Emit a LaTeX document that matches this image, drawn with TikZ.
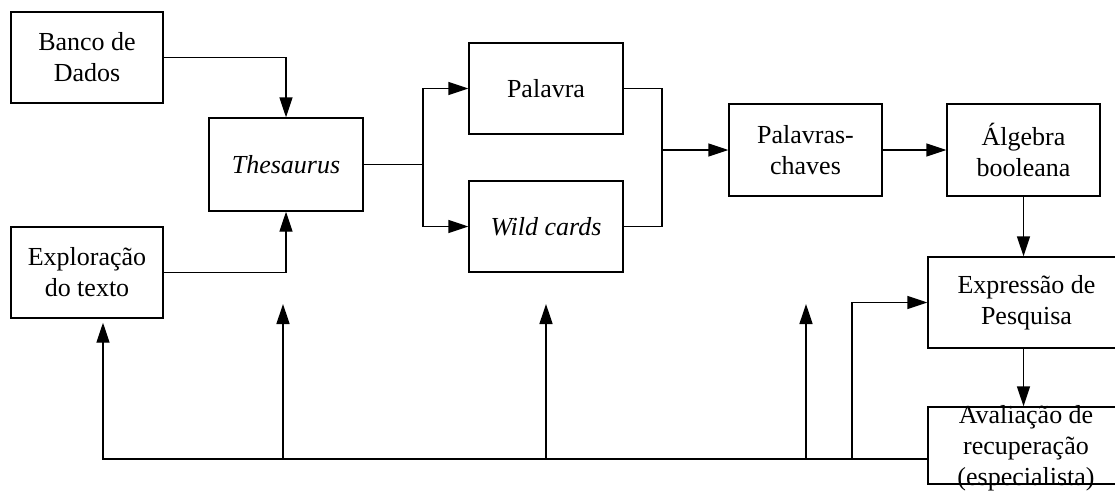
\documentclass[tikz,border=0pt]{standalone}
\usepackage{fontspec}
\setmainfont{Liberation Serif}
\usetikzlibrary{arrows.meta,calc}
\begin{document}
\begin{tikzpicture}[x=1pt,y=-1pt,
  box/.style={draw,line width=1.4pt,inner sep=0pt,align=center,
    font=\fontsize{26}{31}\selectfont},
  txt/.style={inner sep=0pt,align=center,font=\fontsize{26}{31}\selectfont},
  line/.style={line width=1.4pt},
  arr/.style={line width=1.4pt,-{Triangle[length=20pt,width=13pt]}}]
\useasboundingbox (0,0) rectangle (1115,490);
\clip (0,0) rectangle (1115,490);

% process boxes
\node[box,minimum width=152pt,minimum height=91pt] (banco) at (87,57.5) {Banco de\\Dados};
\node[box,minimum width=154pt,minimum height=93pt] (thes) at (286,164.5) {\itshape Thesaurus};
\node[box,minimum width=152pt,minimum height=91pt] (explor) at (87,272.5) {Exploração\\do texto};
\node[box,minimum width=154pt,minimum height=91pt] (pal) at (546,88.5) {Palavra};
\node[box,minimum width=154pt,minimum height=91pt] (wild) at (546,226.5) {\itshape Wild cards};
\node[box,minimum width=153pt,minimum height=92pt] (chaves) at (805.5,150) {Palavras-\\chaves};
\node[box,minimum width=153pt,minimum height=92pt] (alg) at (1023.5,150) {Álgebra\\booleana};
\node[box,minimum width=197pt,minimum height=91pt] (expr) at (1026.5,302.5) {Expressão de\\Pesquisa};
\node[box,minimum width=197pt,minimum height=77pt] (aval) at (1026.5,445.5) {};
\node[txt] (avaltxt) at (1026,448) {Avaliação de\\recuperação\\(especialista)};

% junction points and free arrow ends
\coordinate (split) at (423,164.5);
\coordinate (merge) at (662,150);
\coordinate (bus) at (103,459);
\coordinate (up1) at (283,304);
\coordinate (up2) at (546,304);
\coordinate (up3) at (806,304);
\coordinate (up4) at (852,459);

% forward flow
\draw[arr] (banco.east) -| (thes.north);
\draw[arr] (explor.east) -| (thes.south);
\draw[line] (thes.east) -- (split);
\draw[arr] (split) |- (pal.west);
\draw[arr] (split) |- (wild.west);
\draw[line] (pal.east) -| (merge);
\draw[line] (wild.east) -| (merge);
\draw[arr] (merge) -- (chaves.west);
\draw[arr] (chaves.east) -- (alg.west);
\draw[arr] (alg.south) -- (alg.south |- expr.north);
\draw[arr] (alg.south |- expr.south) -- (alg.south |- aval.north);

% feedback bus
\draw[arr,shorten >=4pt] (aval.west |- bus) -- (bus) -- (bus |- explor.south);
\draw[arr] (up1 |- bus) -- (up1);
\draw[arr] (up2 |- bus) -- (up2);
\draw[arr] (up3 |- bus) -- (up3);
\draw[arr] (up4) |- (expr.west);
\end{tikzpicture}
\end{document}
